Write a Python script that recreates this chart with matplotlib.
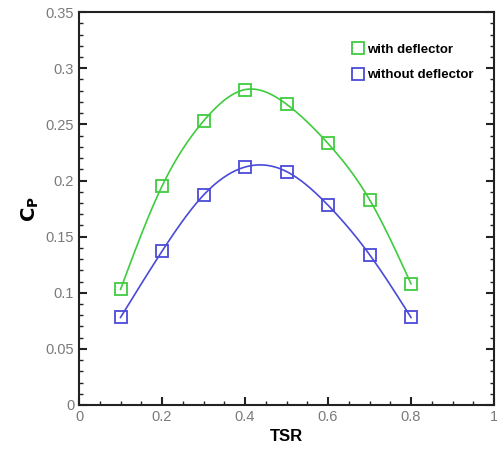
import matplotlib
matplotlib.use('Agg')

import numpy as np
import matplotlib.pyplot as plt
from matplotlib.ticker import MultipleLocator, FuncFormatter

plt.rcParams['font.family'] = ['Liberation Sans', 'DejaVu Sans']

tsr = [0.1, 0.2, 0.3, 0.4, 0.5, 0.6, 0.7, 0.8]
cp_with = [0.103, 0.195, 0.253, 0.281, 0.268, 0.233, 0.183, 0.108]
cp_without = [0.078, 0.137, 0.187, 0.212, 0.208, 0.178, 0.134, 0.078]

green = '#3fcc3f'
blue = '#4a4ad8'


def spline(x, y, n=200):
    # natural cubic spline, only used to draw the smooth line
    x = np.asarray(x, float)
    y = np.asarray(y, float)
    m = len(x)
    h = np.diff(x)
    A = np.zeros((m, m))
    b = np.zeros(m)
    A[0, 0] = A[-1, -1] = 1
    for i in range(1, m - 1):
        A[i, i - 1] = h[i - 1]
        A[i, i] = 2 * (h[i - 1] + h[i])
        A[i, i + 1] = h[i]
        b[i] = 6 * ((y[i + 1] - y[i]) / h[i] - (y[i] - y[i - 1]) / h[i - 1])
    M = np.linalg.solve(A, b)
    xs = np.linspace(x[0], x[-1], n)
    k = np.clip(np.searchsorted(x, xs) - 1, 0, m - 2)
    t0 = x[k + 1] - xs
    t1 = xs - x[k]
    hk = h[k]
    ys = (M[k] * t0**3 + M[k + 1] * t1**3) / (6 * hk) \
        + (y[k] / hk - M[k] * hk / 6) * t0 + (y[k + 1] / hk - M[k + 1] * hk / 6) * t1
    return xs, ys


fig = plt.figure(figsize=(4.97, 4.5), dpi=100)
ax = fig.add_axes([0.159, 0.1, 0.835, 0.873])

for y, c, lab in [(cp_with, green, 'with deflector'), (cp_without, blue, 'without deflector')]:
    xs, ys = spline(tsr, y)
    ax.plot(xs, ys, color=c, lw=1.2)
    ax.plot(tsr, y, 's', ms=8, mfc='none', mec=c, mew=1.3, label=lab)

ax.set_xlim(0, 1)
ax.set_ylim(0, 0.35)
ax.xaxis.set_major_locator(MultipleLocator(0.2))
ax.xaxis.set_minor_locator(MultipleLocator(0.05))
ax.yaxis.set_major_locator(MultipleLocator(0.05))
ax.yaxis.set_minor_locator(MultipleLocator(0.01))
fmt = FuncFormatter(lambda v, p: ('%g' % round(v, 3)))
ax.xaxis.set_major_formatter(fmt)
ax.yaxis.set_major_formatter(fmt)
ax.tick_params(which='both', direction='in', right=True, top=False, colors='#222222',
               labelcolor='#7a7a7a', labelsize=10.5)
ax.tick_params(which='major', length=6, width=1.5)
ax.tick_params(which='minor', length=3, width=1)
for s in ax.spines.values():
    s.set_linewidth(1.5)
    s.set_color('#222222')

ax.set_xlabel('TSR', fontsize=12, fontweight='bold', labelpad=4)
ax.set_ylabel(r'$\mathbf{C_P}$', fontsize=14, labelpad=3)

leg = ax.legend(loc='upper left', bbox_to_anchor=(0.625, 0.95), frameon=False,
                handletextpad=0.1, handlelength=1.2, labelspacing=1.0,
                prop={'weight': 'bold', 'size': 9.5})

fig.savefig('out.png', dpi=100)
